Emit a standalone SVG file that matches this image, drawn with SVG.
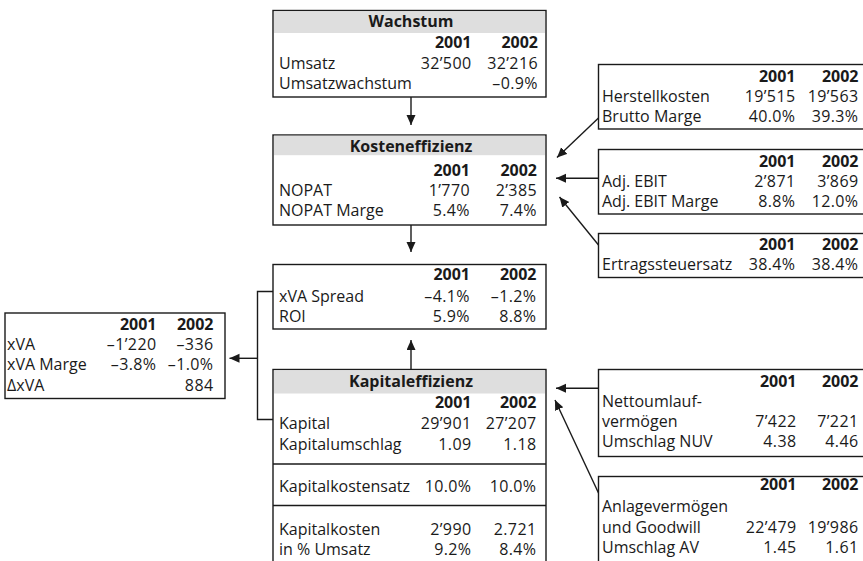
<svg xmlns="http://www.w3.org/2000/svg" width="863" height="561" viewBox="0 0 863 561">
<defs>
<marker id="ah" markerUnits="userSpaceOnUse" markerWidth="11" markerHeight="10" refX="10" refY="4.5" orient="auto">
<path d="M0,0 L10,4.5 L0,9 Z" fill="#1a1a1a"/>
</marker>
<style>
text{font-family:"Open Sans","Noto Sans","DejaVu Sans",sans-serif;font-size:16px;fill:#1a1a1a}
.h{font-weight:bold;text-anchor:middle}
.y{font-weight:bold;text-anchor:end}
.n{text-anchor:end;letter-spacing:0.4px}
.box{fill:#fff;stroke:#1a1a1a;stroke-width:1.4}
.band{fill:#dedede}
.ln{fill:none;stroke:#1a1a1a;stroke-width:1.4}
.ar{fill:none;stroke:#1a1a1a;stroke-width:1.4;marker-end:url(#ah)}
</style>
</defs>
<rect width="863" height="561" fill="#fff"/>

<g id="wachstum">
<rect class="box" x="273" y="10.5" width="273" height="86.5"/>
<rect class="band" x="274" y="11.2" width="271" height="21.8"/>
<text class="h" x="411" y="27">Wachstum</text>
<text class="y" x="471.5" y="48">2001</text><text class="y" x="538" y="48">2002</text>
<text x="279" y="68.5">Umsatz</text><text class="n" x="471.5" y="68.5">32’500</text><text class="n" x="538" y="68.5">32’216</text>
<text x="279" y="89">Umsatzwachstum</text><text class="n" x="538" y="89">–0.9%</text>
</g>

<g id="kosteneffizienz">
<rect class="box" x="273" y="135" width="273" height="90"/>
<rect class="band" x="274" y="135.7" width="271" height="19.5"/>
<text class="h" x="411" y="152">Kosteneffizienz</text>
<text class="y" x="470" y="175.5">2001</text><text class="y" x="537" y="175.5">2002</text>
<text x="279" y="196">NOPAT</text><text class="n" x="470" y="196">1’770</text><text class="n" x="537" y="196">2’385</text>
<text x="279" y="216">NOPAT Marge</text><text class="n" x="470" y="216">5.4%</text><text class="n" x="537" y="216">7.4%</text>
</g>

<g id="xva-spread">
<rect class="box" x="273" y="264.5" width="273" height="64.5"/>
<text class="y" x="470" y="280">2001</text><text class="y" x="536.5" y="280">2002</text>
<text x="279" y="301.5">xVA Spread</text><text class="n" x="470" y="301.5">–4.1%</text><text class="n" x="536.5" y="301.5">–1.2%</text>
<text x="279" y="321.5">ROI</text><text class="n" x="470" y="321.5">5.9%</text><text class="n" x="536.5" y="321.5">8.8%</text>
</g>

<g id="xva">
<rect class="box" x="5" y="313" width="220" height="85.5"/>
<text class="y" x="156.5" y="330">2001</text><text class="y" x="213.5" y="330">2002</text>
<text x="7" y="350">xVA</text><text class="n" x="156.5" y="350">–1’220</text><text class="n" x="213.5" y="350">–336</text>
<text x="7" y="370">xVA Marge</text><text class="n" x="156.5" y="370">–3.8%</text><text class="n" x="213.5" y="370">–1.0%</text>
<text x="7" y="390.5">ΔxVA</text><text class="n" x="213.5" y="390.5">884</text>
</g>

<g id="kapitaleffizienz">
<rect class="box" x="273" y="369.5" width="273" height="220"/>
<rect class="band" x="274" y="370.2" width="271" height="23.3"/>
<text class="h" x="411" y="386.5">Kapitaleffizienz</text>
<text class="y" x="471.5" y="408">2001</text><text class="y" x="536.5" y="408">2002</text>
<text x="279" y="428.5">Kapital</text><text class="n" x="471.5" y="428.5">29’901</text><text class="n" x="536.5" y="428.5">27’207</text>
<text x="279" y="450">Kapitalumschlag</text><text class="n" x="471.5" y="450">1.09</text><text class="n" x="536.5" y="450">1.18</text>
<line class="ln" x1="273" y1="464" x2="546" y2="464"/>
<text x="279" y="491.5">Kapitalkostensatz</text><text class="n" x="471.5" y="491.5">10.0%</text><text class="n" x="536.5" y="491.5">10.0%</text>
<line class="ln" x1="273" y1="505.5" x2="546" y2="505.5"/>
<text x="279" y="535">Kapitalkosten</text><text class="n" x="471.5" y="535">2’990</text><text class="n" x="536.5" y="535">2.721</text>
<text x="279" y="555">in % Umsatz</text><text class="n" x="471.5" y="555">9.2%</text><text class="n" x="536.5" y="555">8.4%</text>
</g>

<g id="herstellkosten">
<rect class="box" x="598.5" y="64.5" width="280" height="64.5"/>
<text class="y" x="795.5" y="81.5">2001</text><text class="y" x="858.5" y="81.5">2002</text>
<text x="602" y="101.5">Herstellkosten</text><text class="n" x="795.5" y="101.5">19’515</text><text class="n" x="858.5" y="101.5">19’563</text>
<text x="602" y="121.5">Brutto Marge</text><text class="n" x="795.5" y="121.5">40.0%</text><text class="n" x="858.5" y="121.5">39.3%</text>
</g>

<g id="adj-ebit">
<rect class="box" x="598.5" y="149.5" width="280" height="64.5"/>
<text class="y" x="795.5" y="166.5">2001</text><text class="y" x="858.5" y="166.5">2002</text>
<text x="602" y="186.5">Adj. EBIT</text><text class="n" x="795.5" y="186.5">2’871</text><text class="n" x="858.5" y="186.5">3’869</text>
<text x="602" y="206.5">Adj. EBIT Marge</text><text class="n" x="795.5" y="206.5">8.8%</text><text class="n" x="858.5" y="206.5">12.0%</text>
</g>

<g id="ertragssteuersatz">
<rect class="box" x="598.5" y="233.5" width="280" height="44"/>
<text class="y" x="795.5" y="250">2001</text><text class="y" x="858.5" y="250">2002</text>
<text x="602" y="270">Ertragssteuersatz</text><text class="n" x="795.5" y="270">38.4%</text><text class="n" x="858.5" y="270">38.4%</text>
</g>

<g id="nettoumlaufvermoegen">
<rect class="box" x="598.5" y="369.5" width="280" height="87"/>
<text class="y" x="796.5" y="386.5">2001</text><text class="y" x="858.5" y="386.5">2002</text>
<text x="602" y="406.5">Nettoumlauf-</text>
<text x="602" y="426.5">vermögen</text><text class="n" x="796.5" y="426.5">7’422</text><text class="n" x="858.5" y="426.5">7’221</text>
<text x="602" y="447">Umschlag NUV</text><text class="n" x="796.5" y="447">4.38</text><text class="n" x="858.5" y="447">4.46</text>
</g>

<g id="anlagevermoegen">
<rect class="box" x="598.5" y="476.5" width="280" height="120"/>
<text class="y" x="796.5" y="490">2001</text><text class="y" x="858.5" y="490">2002</text>
<text x="602" y="511.5">Anlagevermögen</text>
<text x="602" y="533">und Goodwill</text><text class="n" x="796.5" y="533">22’479</text><text class="n" x="858.5" y="533">19’986</text>
<text x="602" y="553">Umschlag AV</text><text class="n" x="796.5" y="553">1.45</text><text class="n" x="858.5" y="553">1.61</text>
</g>

<g id="connectors">
<line class="ar" x1="411" y1="97" x2="411" y2="125"/>
<line class="ar" x1="411" y1="225" x2="411" y2="252"/>
<line class="ar" x1="411" y1="369.5" x2="411" y2="340"/>
<polyline class="ln" points="273,291.5 257.5,291.5 257.5,419.5 273,419.5"/>
<line class="ar" x1="257.5" y1="358.3" x2="229.5" y2="358.3"/>
<line class="ar" x1="598.5" y1="118" x2="557" y2="157.5"/>
<line class="ar" x1="598.5" y1="178.3" x2="556" y2="178.3"/>
<line class="ar" x1="598.5" y1="245" x2="559.5" y2="197"/>
<line class="ar" x1="598.5" y1="388.3" x2="556" y2="388.3"/>
<line class="ar" x1="598.5" y1="493" x2="555" y2="400"/>
</g>
</svg>
